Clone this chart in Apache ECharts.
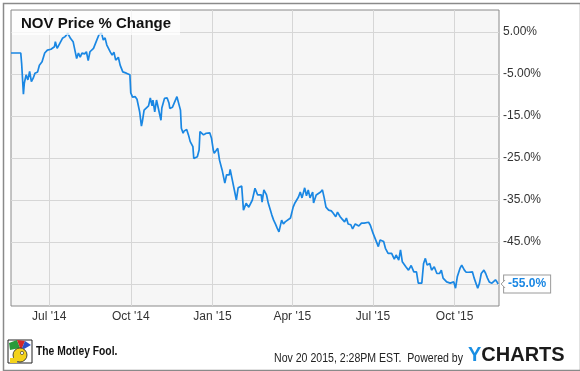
<!DOCTYPE html>
<html>
<head>
<meta charset="utf-8">
<script src="https://cdn.jsdelivr.net/npm/echarts@6/dist/echarts.min.js"></script>
<style>
html,body{margin:0;padding:0;background:#fff;}
#chart{width:580px;height:371px;}
</style>
</head>
<body>
<div id="chart"></div>
<script>
const dates = [
'2014-05-19','2014-05-30','2014-05-31','2014-06-02','2014-06-03','2014-06-05','2014-06-07','2014-06-09','2014-06-11','2014-06-13',
'2014-06-15','2014-06-18','2014-06-20','2014-06-22','2014-06-23','2014-06-26','2014-06-29','2014-07-03','2014-07-07','2014-07-08',
'2014-07-10','2014-07-13','2014-07-16','2014-07-19','2014-07-22','2014-07-25','2014-07-28','2014-07-30','2014-08-01','2014-08-03',
'2014-08-05','2014-08-07','2014-08-10','2014-08-12','2014-08-14','2014-08-16','2014-08-20','2014-08-23','2014-08-26','2014-08-29',
'2014-08-31','2014-09-02','2014-09-04','2014-09-08','2014-09-10','2014-09-12','2014-09-14','2014-09-17','2014-09-19','2014-09-22',
'2014-09-26','2014-09-28','2014-09-30','2014-10-01','2014-10-03','2014-10-06','2014-10-08','2014-10-11','2014-10-13','2014-10-14',
'2014-10-16','2014-10-18','2014-10-21','2014-10-23','2014-10-25','2014-10-26','2014-10-28','2014-10-30','2014-11-01','2014-11-04',
'2014-11-05','2014-11-08','2014-11-11','2014-11-13','2014-11-14','2014-11-17','2014-11-19','2014-11-22','2014-11-24','2014-11-26',
'2014-11-27','2014-11-29','2014-11-30','2014-12-03','2014-12-05','2014-12-07','2014-12-10','2014-12-11','2014-12-15','2014-12-17',
'2014-12-18','2014-12-22','2014-12-25','2014-12-29','2014-12-31','2015-01-02','2015-01-03','2015-01-07','2015-01-09','2015-01-12',
'2015-01-15','2015-01-17','2015-01-20','2015-01-21','2015-01-23','2015-01-25','2015-01-28','2015-01-30','2015-02-01','2015-02-03',
'2015-02-05','2015-02-08','2015-02-09','2015-02-11','2015-02-15','2015-02-18','2015-02-21','2015-02-23','2015-02-25','2015-02-26',
'2015-02-28','2015-03-03','2015-03-05','2015-03-09','2015-03-11','2015-03-13','2015-03-15','2015-03-17','2015-03-20','2015-03-22',
'2015-03-24','2015-03-26','2015-03-30','2015-04-02','2015-04-04','2015-04-08','2015-04-10','2015-04-12','2015-04-15','2015-04-17',
'2015-04-19','2015-04-21','2015-04-24','2015-04-25','2015-04-28','2015-05-03','2015-05-05','2015-05-07','2015-05-09','2015-05-12',
'2015-05-15','2015-05-17','2015-05-20','2015-05-22','2015-05-25','2015-05-27','2015-05-30','2015-06-01','2015-06-03','2015-06-06',
'2015-06-08','2015-06-11','2015-06-15','2015-06-18','2015-06-21','2015-06-26','2015-06-28','2015-07-01','2015-07-04','2015-07-07',
'2015-07-09','2015-07-13','2015-07-15','2015-07-18','2015-07-22','2015-07-24','2015-07-25','2015-07-27','2015-07-30','2015-08-01',
'2015-08-03','2015-08-07','2015-08-10','2015-08-13','2015-08-16','2015-08-19','2015-08-21','2015-08-25','2015-08-27','2015-08-29',
'2015-08-31','2015-09-03','2015-09-05','2015-09-08','2015-09-11','2015-09-14','2015-09-16','2015-09-18','2015-09-22','2015-09-26',
'2015-09-30','2015-10-02','2015-10-04','2015-10-07','2015-10-09','2015-10-12','2015-10-14','2015-10-17','2015-10-19','2015-10-21',
'2015-10-23','2015-10-27','2015-10-29','2015-10-31','2015-11-03','2015-11-05','2015-11-07','2015-11-09','2015-11-12','2015-11-14',
'2015-11-16','2015-11-18','2015-11-19'
];
const pctChange = [
0,0,-2.5,-9.8,-7.2,-5.2,-6.4,-4.4,-6.8,-6.0,
-4.8,-4.5,-2.9,-3.3,-2.1,0,0.7,0.9,1.5,2.7,
1.1,2.3,3.5,3.9,4.7,3.5,2.7,0.7,-1.3,0,
-1.0,0,-0.2,0.3,-1.8,0.3,1.1,2.7,4.3,4.8,
3.1,3.6,1.9,0.2,-0.5,0.2,-1.7,-1.0,-2.9,-4.5,
-4.8,-5.2,-5.2,-9.5,-10.5,-10.4,-11.0,-14.0,-17.4,-16.4,
-13.6,-14.0,-12.6,-10.7,-12.6,-11.2,-14.0,-11.2,-13.1,-16.0,
-13.1,-10.8,-10.7,-11.9,-13.2,-12.9,-12.6,-10.4,-10.5,-13.6,
-17.9,-19.1,-18.6,-18.2,-19.5,-21.1,-22.3,-25.1,-24.7,-23.1,
-18.7,-19.5,-19.1,-19.0,-20.3,-23.1,-23.9,-22.7,-25.5,-27.9,
-31.0,-29.0,-29.0,-27.7,-29.8,-30.2,-35.0,-32.1,-31.8,-31.7,
-37.4,-35.8,-36.2,-36.7,-35.0,-32.2,-33.8,-34.0,-33.8,-35.5,
-32.6,-33.8,-35.8,-38.6,-39.8,-40.7,-41.7,-42.6,-39.8,-40.7,
-40.2,-39.8,-39.3,-36.7,-35.7,-34.3,-33.1,-34.5,-32.1,-34.0,
-32.6,-34.5,-33.1,-35.7,-33.8,-33.1,-32.6,-34.5,-36.7,-37.4,
-37.6,-38.1,-39.0,-37.9,-39.0,-39.5,-40.2,-39.3,-40.7,-40.9,
-41.9,-40.7,-41.2,-40.5,-40.5,-40.3,-41.0,-42.9,-44.5,-46.1,
-44.5,-44.9,-46.5,-47.7,-47.7,-47.3,-49.1,-48.1,-49.3,-46.9,
-49.7,-50.9,-51.7,-50.6,-52.1,-52.1,-54.8,-54.8,-50.1,-48.9,
-50.5,-50.1,-51.7,-50.9,-52.5,-52.5,-51.7,-53.6,-54.5,-54.8,
-54.5,-56.0,-53.3,-51.3,-50.5,-51.7,-52.2,-52.2,-52.5,-52.1,
-53.6,-56.0,-54.8,-52.5,-51.7,-52.5,-53.6,-54.5,-54.8,-54.5,
-54.0,-54.6,-55.0
];
const xTickDates = ['2014-07-01','2014-10-01','2015-01-01','2015-04-01','2015-07-01','2015-10-01'];
const xTickLabels = ["Jul '14","Oct '14","Jan '15","Apr '15","Jul '15","Oct '15"];
const yTickValues = [5,-5,-15,-25,-35,-45,-55];
const yTickLabels = ['5.00%','-5.00%','-15.0%','-25.0%','-35.0%','-45.0%','-55.0%'];
const xMin = '2014-05-19', xMax = '2015-11-20';
const yMin = -60.24, yMax = 10.24;
const titleText = 'NOV Price % Change';
const lastLabel = '-55.0%';

const toTs = s => new Date(s + 'T00:00:00').getTime();
const xTickTs = xTickDates.map(toTs);
const LINE = '#1a87e3';
const FONT = '"Liberation Sans", Arial, sans-serif';

const chart = echarts.init(document.getElementById('chart'), null, {renderer: 'canvas'});
const option = {
  animation: false,
  backgroundColor: '#ffffff',
  grid: {left: 11, top: 10, right: 81, bottom: 65, show: true, backgroundColor: '#f6f6f6', borderColor: '#8a8a8a', borderWidth: 1, containLabel: false},
  xAxis: {
    type: 'value', min: toTs(xMin), max: toTs(xMax),
    axisLine: {show: false},
    axisTick: {show: false, customValues: xTickTs},
    splitLine: {show: true, lineStyle: {color: '#d6d6d6', width: 1}},
    axisLabel: {
      customValues: xTickTs, margin: 5, color: '#333', fontSize: 12, fontFamily: FONT,
      formatter: v => { const i = xTickTs.indexOf(v); return i >= 0 ? xTickLabels[i] : ''; }
    }
  },
  yAxis: {
    type: 'value', position: 'right', min: yMin, max: yMax,
    axisLine: {show: false},
    axisTick: {show: false, customValues: yTickValues},
    splitLine: {show: true, lineStyle: {color: '#d6d6d6', width: 1}},
    axisLabel: {
      customValues: yTickValues, margin: 4, color: '#333', fontSize: 12, fontFamily: FONT,
      formatter: v => { const i = yTickValues.indexOf(v); return i >= 0 ? yTickLabels[i] : ''; }
    }
  },
  series: [{
    type: 'line', showSymbol: false, symbol: 'none',
    data: dates.map((d, i) => [toTs(d), pctChange[i]]),
    lineStyle: {color: LINE, width: 1.7},
    z: 5,
    endLabel: {
      show: true, formatter: lastLabel, distance: 6,
      color: LINE, fontWeight: 'bold', fontSize: 12, fontFamily: FONT,
      backgroundColor: '#ffffff', borderColor: '#9a9a9a', borderWidth: 1,
      padding: [3, 4, 2, 4]
    }
  }],
  graphic: [
    {type: 'rect', left: 1, top: 1, shape: {width: 577, height: 367}, style: {fill: 'none', stroke: '#8a8a8a', lineWidth: 1.5}, z: 100, silent: true},
    {type: 'rect', left: 12, top: 11, shape: {width: 168, height: 24}, style: {fill: 'rgba(255,255,255,0.75)'}, z: 50},
    {type: 'text', left: 21, top: 16, style: {text: titleText, font: 'bold 15px ' + FONT, fill: '#111'}, z: 51},
    {type: 'text', x: 274, y: 353, scaleX: 0.88, style: {text: 'Nov 20 2015, 2:28PM EST.  Powered by', font: '12px ' + FONT, fill: '#222'}, z: 51},
    {type: 'text', x: 468, y: 345, style: {
      text: '{y|Y}{c|CHARTS}',
      rich: {y: {font: 'bold 20px ' + FONT, fill: '#1a8fe3'}, c: {font: 'bold 20px ' + FONT, fill: '#1b1b1b'}}
    }, z: 51},
    {type: 'group', x: 8, y: 340, z: 51, children: [
      {type: 'rect', shape: {x: 0, y: 0, width: 24, height: 23}, style: {fill: '#fff', stroke: '#222', lineWidth: 1}},
      {type: 'polygon', shape: {points: [[1,3],[9,0],[12,8],[2,10]]}, style: {fill: '#2a9a3a'}},
      {type: 'polygon', shape: {points: [[9,0],[17,1],[14,8],[12,8]]}, style: {fill: '#d12a2a'}},
      {type: 'polygon', shape: {points: [[17,1],[23,5],[16,9],[14,8]]}, style: {fill: '#2a52c8'}},
      {type: 'circle', shape: {cx: 12, cy: 15, r: 7}, style: {fill: '#f3d21b', stroke: '#222', lineWidth: 0.8}},
      {type: 'circle', shape: {cx: 14, cy: 13, r: 1.6}, style: {fill: '#fff', stroke: '#222', lineWidth: 0.6}},
      {type: 'rect', shape: {x: 2, y: 18, width: 7, height: 5}, style: {fill: '#f3d21b'}}
    ]},
    {type: 'text', x: 36, y: 346, scaleX: 0.86, style: {text: 'The Motley Fool.', font: 'bold 12px ' + FONT, fill: '#111'}, z: 51}
  ]
};
chart.setOption(option);

// small pointer on the end label, placed through the chart's own scales
const lastPt = chart.convertToPixel({gridIndex: 0}, [toTs(dates[dates.length - 1]), pctChange[pctChange.length - 1]]);
if (lastPt) {
  chart.setOption({graphic: option.graphic.concat([
    {type: 'polyline', shape: {points: [[lastPt[0] + 7, lastPt[1] - 4], [lastPt[0] + 3, lastPt[1]], [lastPt[0] + 7, lastPt[1] + 4]]},
     style: {stroke: '#9a9a9a', lineWidth: 1, fill: '#fff'}, z: 60}
  ])});
}
</script>
</body>
</html>
